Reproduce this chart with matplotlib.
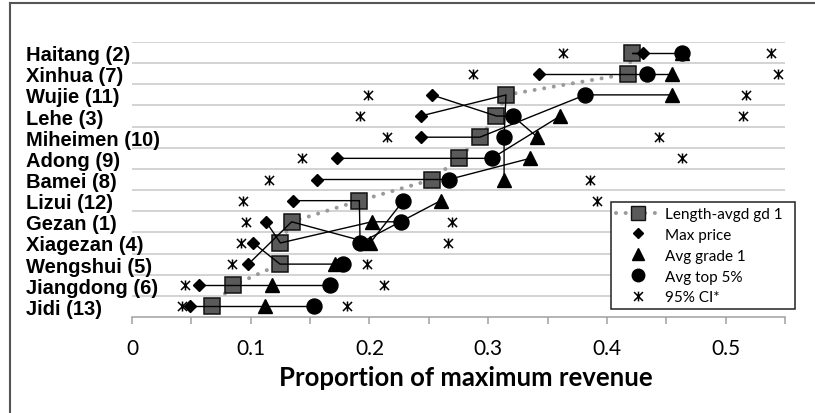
import matplotlib
matplotlib.use("Agg")
import matplotlib.pyplot as plt
from matplotlib.lines import Line2D
from matplotlib.path import Path

# villages from top row to bottom row
VILLAGES = ["Haitang (2)", "Xinhua (7)", "Wujie (11)", "Lehe (3)", "Miheimen (10)",
            "Adong (9)", "Bamei (8)", "Lizui (12)", "Gezan (1)", "Xiagezan (4)",
            "Wengshui (5)", "Jiangdong (6)", "Jidi (13)"]

length_avgd = [0.421, 0.418, 0.315, 0.307, 0.293, 0.275, 0.253, 0.1915, 0.1345, 0.125, 0.1247, 0.0854, 0.0671]
max_price = [0.430, 0.343, 0.2525, 0.243, 0.243, 0.173, 0.1556, 0.1354, 0.1129, 0.1022, 0.098, 0.0567, 0.0489]
avg_grade1 = [0.463, 0.4547, 0.4547, 0.3606, 0.3415, 0.3353, 0.3134, 0.260, 0.2019, 0.2005, 0.171, 0.1177, 0.112]
avg_top5 = [0.463, 0.4336, 0.3817, 0.3207, 0.3134, 0.303, 0.2667, 0.2286, 0.2263, 0.1921, 0.178, 0.1668, 0.1533]
ci_low = [0.3634, 0.2876, 0.199, 0.192, 0.2145, 0.143, 0.115, 0.0938, 0.096, 0.0916, 0.084, 0.0447, 0.0419]
ci_high = [0.538, 0.5445, 0.517, 0.515, 0.4435, 0.463, 0.386, 0.3915, 0.2693, 0.2665, 0.1977, 0.2126, 0.181]

# connector lines: (series, village) in drawing order
PATHS = [
    [("max", "Haitang"), ("len", "Haitang"), ("top", "Haitang"), ("gr1", "Haitang")],
    [("max", "Xinhua"), ("len", "Xinhua"), ("top", "Xinhua"), ("gr1", "Xinhua")],
    [("max", "Wujie"), ("len", "Lehe"), ("top", "Lehe"), ("gr1", "Miheimen")],
    [("max", "Lehe"), ("len", "Wujie"), ("top", "Miheimen"), ("gr1", "Bamei")],
    [("max", "Miheimen"), ("len", "Miheimen"), ("top", "Wujie"), ("gr1", "Wujie")],
    [("max", "Adong"), ("len", "Adong"), ("top", "Adong"), ("gr1", "Lehe")],
    [("max", "Bamei"), ("len", "Bamei"), ("top", "Bamei"), ("gr1", "Adong")],
    [("max", "Lizui"), ("len", "Lizui"), ("top", "Xiagezan"), ("gr1", "Lizui")],
    [("max", "Gezan"), ("len", "Xiagezan"), ("gr1", "Gezan"), ("top", "Gezan")],
    [("max", "Xiagezan"), ("len", "Wengshui"), ("gr1", "Wengshui"), ("top", "Wengshui")],
    [("max", "Wengshui"), ("len", "Gezan"), ("gr1", "Xiagezan"), ("top", "Lizui")],
    [("max", "Jiangdong"), ("len", "Jiangdong"), ("gr1", "Jiangdong"), ("top", "Jiangdong")],
    [("max", "Jidi"), ("len", "Jidi"), ("gr1", "Jidi"), ("top", "Jidi")],
]

LEGEND_LABELS = ["Length-avgd gd 1", "Max price", "Avg grade 1", "Avg top 5%", "95% CI*"]

W, H = 815, 414
AX_LEFT, AX_RIGHT, AX_TOP, AX_BOTTOM = 132, 785, 43, 318

# excel-like star marker: X with a vertical bar
STAR = Path([(-1, -1), (1, 1), (-1, 1), (1, -1), (0, -1.1), (0, 1.1)],
            [Path.MOVETO, Path.LINETO, Path.MOVETO, Path.LINETO, Path.MOVETO, Path.LINETO])

DOTS = (0, (0.01, 2.4))


def main():
    plt.rcParams['font.family'] = ['Lato', 'DejaVu Sans']
    fig = plt.figure(figsize=(W / 100, H / 100), dpi=100)
    ax = fig.add_axes([AX_LEFT / W, 1 - AX_BOTTOM / H, (AX_RIGHT - AX_LEFT) / W, (AX_BOTTOM - AX_TOP) / H])

    n = len(VILLAGES)
    y = [n - i - 0.5 for i in range(n)]
    names = [v.split(" (")[0] for v in VILLAGES]
    series = {"len": length_avgd, "max": max_price, "gr1": avg_grade1, "top": avg_top5}

    for k in range(1, n + 1):
        ax.axhline(k, color='#c8c8c8', lw=1.1, zorder=1)

    ax.plot(length_avgd, y, color='#9a9a9a', lw=2.9, ls=DOTS, dash_capstyle='round', zorder=2)
    ax.plot(length_avgd, y, 's', ms=12, mfc='#5a5a5a', mec='#111111', mew=1.1, zorder=3)

    for path in PATHS:
        px = [series[s][names.index(v)] for s, v in path]
        py = [y[names.index(v)] for s, v in path]
        ax.plot(px, py, color='black', lw=1.0, zorder=4)

    ax.plot(max_price, y, 'D', ms=6, color='black', ls='none', zorder=5)
    ax.plot(avg_grade1, y, '^', ms=10, color='black', ls='none', zorder=5)
    ax.plot(avg_top5, y, 'o', ms=10.8, color='black', ls='none', zorder=6)
    ax.plot(ci_low, y, marker=STAR, ms=7.2, mec='black', mew=1.1, ls='none', zorder=5)
    ax.plot(ci_high, y, marker=STAR, ms=7.2, mec='black', mew=1.1, ls='none', zorder=5)

    ax.set_xlim(0, 0.55)
    ax.set_ylim(0, n)
    ax.set_xticks([0, 0.1, 0.2, 0.3, 0.4, 0.5])
    ax.set_xticklabels(["0", "0.1", "0.2", "0.3", "0.4", "0.5"], fontsize=15)
    ax.set_xticks([0.05, 0.15, 0.25, 0.35, 0.45, 0.55], minor=True)
    ax.tick_params(axis='x', which='both', length=5, width=1.1, color='#a0a0a0', pad=10)

    ax.set_yticks(y)
    ax.set_yticklabels(VILLAGES, fontsize=14.5, fontweight='bold', family='Liberation Sans', ha='left')
    ax.tick_params(axis='y', length=0, pad=(AX_LEFT - 26) * 0.72)

    for side in ['left', 'right', 'top']:
        ax.spines[side].set_visible(False)
    ax.spines['bottom'].set_color('#a0a0a0')
    ax.spines['bottom'].set_linewidth(1.1)

    fig.text(466 / W, 1 - 378 / H, "Proportion of maximum revenue", fontsize=18.5,
             fontweight='bold', ha='center', va='center')

    handles = [
        Line2D([], [], color='#9a9a9a', lw=2.9, ls=DOTS, dash_capstyle='round',
               marker='s', ms=10, mfc='#5a5a5a', mec='#111111', mew=1.0),
        Line2D([], [], marker='D', ms=5, color='black', ls='none'),
        Line2D([], [], marker='^', ms=9, color='black', ls='none'),
        Line2D([], [], marker='o', ms=9, color='black', ls='none'),
        Line2D([], [], marker=STAR, ms=7, mec='black', mew=1.1, ls='none'),
    ]
    x0 = (611 - AX_LEFT) / (AX_RIGHT - AX_LEFT)
    x1 = (795 - AX_LEFT) / (AX_RIGHT - AX_LEFT)
    y0 = (AX_BOTTOM - 310) / (AX_BOTTOM - AX_TOP)
    leg = ax.legend(handles, LEGEND_LABELS, loc='lower left', bbox_to_anchor=(x0, y0, x1 - x0, 0.4),
                    mode='expand', borderaxespad=0, fontsize=11, frameon=True, fancybox=False,
                    framealpha=1, edgecolor='#222222', handlelength=2.9, handletextpad=0.35,
                    labelspacing=0.45, borderpad=0.3)
    leg.get_frame().set_linewidth(1.1)
    leg.set_zorder(10)

    # frame lines at top and left of the picture
    fig.add_artist(Line2D([10 / W, 10 / W], [0, 1 - 4 / H], color='#555555', lw=1.5))
    fig.add_artist(Line2D([10 / W, 1], [1 - 4 / H, 1 - 4 / H], color='#555555', lw=1.5))

    fig.savefig("out.png", dpi=100)


if __name__ == "__main__":
    main()
